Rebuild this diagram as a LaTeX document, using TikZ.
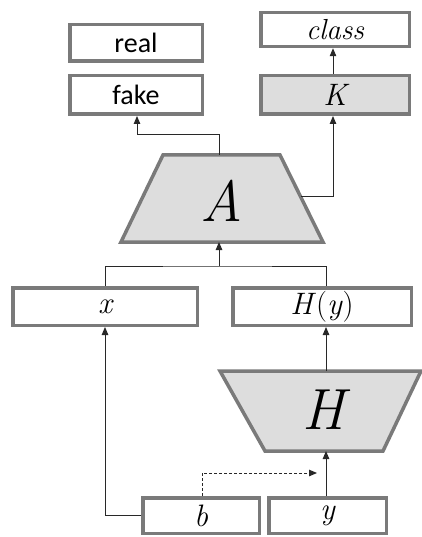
\documentclass[tikz,border=0pt]{standalone}
\usepackage{fontspec}
\newfontfamily\calib{Carlito}
\usetikzlibrary{arrows.meta}
\definecolor{bordergray}{RGB}{122,122,122}
\definecolor{fillgray}{RGB}{221,221,221}
\definecolor{linegray}{RGB}{40,40,40}
\tikzset{
  box/.style={draw=bordergray, line width=3.5pt, fill=white, inner sep=0pt, minimum height=37.5pt},
  graybox/.style={box, fill=fillgray},
  trap/.style={draw=bordergray, line width=3.5pt, fill=fillgray, line join=miter},
  conn/.style={draw=linegray, line width=1pt},
  arr/.style={conn, -{Triangle[length=8pt,width=6.5pt]}},
  sanslbl/.style={font=\calib\fontsize{28}{30}\selectfont},
  mathlbl/.style={font=\itshape\fontsize{31}{34}\selectfont},
  biglbl/.style={font=\itshape\fontsize{58}{62}\selectfont},
}
\begin{document}
\begin{tikzpicture}[x=1pt,y=-1pt]
\useasboundingbox (0,0) rectangle (422,537);
% top row
\node[box, sanslbl, minimum width=132.5pt, minimum height=36.5pt] (real) at (136,43) {real};
\node[box, sanslbl, minimum width=132.5pt, minimum height=38.5pt] (fake) at (136,95) {fake};
\node[box, minimum width=148.5pt, minimum height=34pt, font=\itshape\fontsize{29}{30}\selectfont] (class) at (335,29.5) {class};
\node[graybox, mathlbl, minimum width=148.5pt, minimum height=38.5pt] (K) at (335,95) {K};
% A trapezoid
\draw[trap] (163,155) -- (280,155) -- (323,242) -- (121,242) -- cycle;
\node[biglbl] (A) at (222,201) {A};
\coordinate (Atop) at (219,155);
\coordinate (Abot) at (219,242);
\coordinate (Aright) at (301,197);
% middle row
\node[box, mathlbl, minimum width=184.5pt] (x) at (105,306.5) {x};
\node[box, mathlbl, minimum width=178.5pt] (Hy) at (322,306.5) {H\textup{(}y\textup{)}};
% H trapezoid
\draw[trap] (220,371) -- (421,371) -- (383,451) -- (265,451) -- cycle;
\node[biglbl] (H) at (324,410) {H};
\coordinate (Htop) at (326,371);
\coordinate (Hbot) at (326,451);
% bottom row
\node[box, mathlbl, minimum width=116.5pt, minimum height=35.5pt] (b) at (201,515.5) {b};
\node[box, mathlbl, minimum width=117.5pt, minimum height=35.5pt] (y) at (327.5,515.5) {y};
\coordinate (join) at (219,266);
\coordinate (dashend) at (317,473);
% connectors
\draw[arr] (Atop) -- (219,135) -| ([xshift=1pt]fake.south);
\draw[arr] (Aright) -| ([xshift=-2pt]K.south);
\draw[arr] ([xshift=-2pt]K.north) -- ([xshift=-2pt]class.south);
\draw[arr] (join) -- (Abot);
\draw[conn] (x.north) |- (join) -| (Hy.north -| Htop);
\draw[arr] (Htop) -- (Hy.south -| Htop);
\draw[arr] (y.north -| Hbot) -- (Hbot);
\draw[arr] (b.west) -| (x.south);
\draw[arr, dash pattern=on 3pt off 2pt] ([xshift=1pt]b.north) |- (dashend);
\end{tikzpicture}
\end{document}
